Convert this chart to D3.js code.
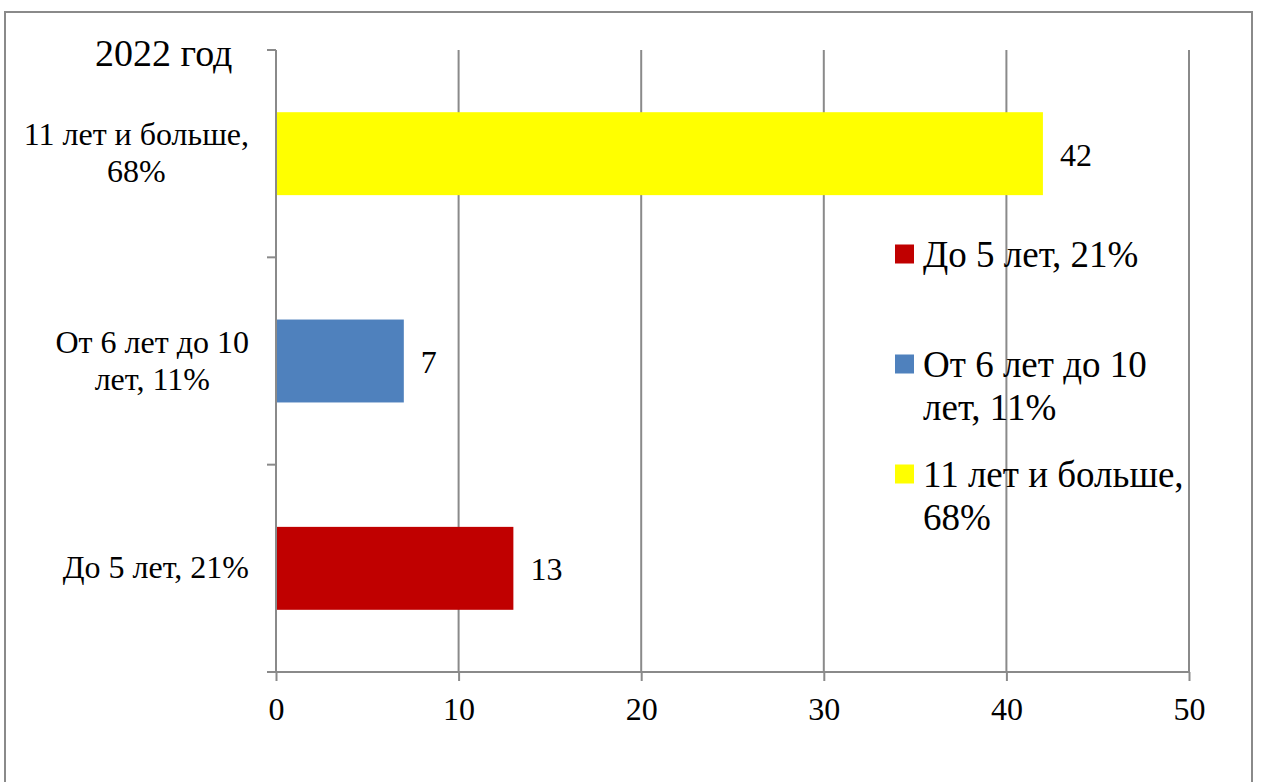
<!DOCTYPE html>
<html><head><meta charset="utf-8">
<script src="https://cdn.jsdelivr.net/npm/d3@7"></script>
<style>body{margin:0;background:#fff}svg{display:block}</style>
</head><body>
<svg id="c" width="1262" height="782"></svg>
<script>
const title = "2022 год";
const categories = ["До 5 лет, 21%", "От 6 лет до 10 лет, 11%", "11 лет и больше, 68%"];
const categoryLines = [["До 5 лет, 21%"], ["От 6 лет до 10", "лет, 11%"], ["11 лет и больше,", "68%"]];
const values = [13, 7, 42];
const colors = ["#C00000", "#4F81BD", "#FFFF00"];
const xTicks = [0, 10, 20, 30, 40, 50];

(function () {
const FONT = "Liberation Serif";
const svg = d3.select("#c");
const pL = 276, pR = 1189, pT = 50, pB = 672;
const grey = "#8a8a8a";
const txt = (sel, size) => sel.style("font-family", FONT).style("font-size", size + "px").style("fill", "#000");

svg.append("rect").attr("x", 5).attr("y", 12).attr("width", 1247).attr("height", 790)
  .attr("fill", "#fff").attr("stroke", grey).attr("stroke-width", 2);

const x = d3.scaleLinear().domain([0, 50]).range([pL, pR]);
const y = d3.scaleBand().domain(categories.slice().reverse()).range([pT, pB])
  .paddingInner(0.6).paddingOuter(0.3);
const yb = d3.scaleBand().domain(categories.slice().reverse()).range([pT, pB]).padding(0);

svg.append("g").selectAll("line").data(xTicks.filter(d => d > 0)).join("line")
  .attr("x1", d => x(d)).attr("x2", d => x(d)).attr("y1", pT).attr("y2", pB)
  .attr("stroke", grey).attr("stroke-width", 2);

svg.append("g").selectAll("rect").data(categories).join("rect")
  .attr("x", x(0)).attr("y", d => y(d)).attr("height", y.bandwidth())
  .attr("width", (d, i) => x(values[i]) - x(0)).attr("fill", (d, i) => colors[i]);

txt(svg.append("g").selectAll("text").data(categories).join("text")
  .attr("x", (d, i) => x(values[i]) + 17).attr("y", d => y(d) + y.bandwidth() / 2 + 12)
  .text((d, i) => values[i]), 32);

const xAxis = svg.append("g").attr("transform", `translate(0,${pB})`)
  .call(d3.axisBottom(x).tickValues(xTicks).tickSize(9).tickSizeOuter(0).tickPadding(16));
xAxis.select(".domain").attr("stroke", grey).attr("stroke-width", 2)
  .attr("d", `M${pL - 9},0H${pR}`);
xAxis.selectAll(".tick line").attr("stroke", grey).attr("stroke-width", 2);
txt(xAxis.selectAll(".tick text"), 32);

const bounds = [pT].concat(categories.map(c => yb(c) + yb.bandwidth()));
svg.append("line").attr("x1", pL).attr("x2", pL).attr("y1", pT).attr("y2", pB)
  .attr("stroke", grey).attr("stroke-width", 2);
svg.append("g").selectAll("line").data(bounds).join("line")
  .attr("x1", pL - 9).attr("x2", pL).attr("y1", d => d).attr("y2", d => d)
  .attr("stroke", grey).attr("stroke-width", 2);

const catFont = 32, catLH = 37, catRight = 249;
categories.forEach((c, i) => {
  const lines = categoryLines[i];
  const cy = y(c) + y.bandwidth() / 2;
  const g = svg.append("g");
  const texts = lines.map((l, k) => txt(g.append("text"), catFont)
    .attr("y", cy + 10 + (k - (lines.length - 1) / 2) * catLH).text(l));
  const widths = texts.map(t => t.node().getComputedTextLength());
  const maxW = d3.max(widths);
  texts.forEach(t => t.attr("x", catRight - maxW / 2).attr("text-anchor", "middle"));
});

txt(svg.append("text").attr("x", 95).attr("y", 66).text(title), 38);

const legFont = 37, legLH = 43;
const legendY = [254, 364, 474];
categories.forEach((c, i) => {
  const g = svg.append("g");
  g.append("rect").attr("x", 895).attr("y", legendY[i] - 9.5).attr("width", 19).attr("height", 19)
    .attr("fill", colors[i]);
  const lines = i === 0 ? [c] : categoryLines[i];
  lines.forEach((l, k) => txt(g.append("text"), legFont).attr("x", 923).attr("y", legendY[i] + 13 + k * legLH)
    .text(l));
});
})();
</script>
</body></html>
